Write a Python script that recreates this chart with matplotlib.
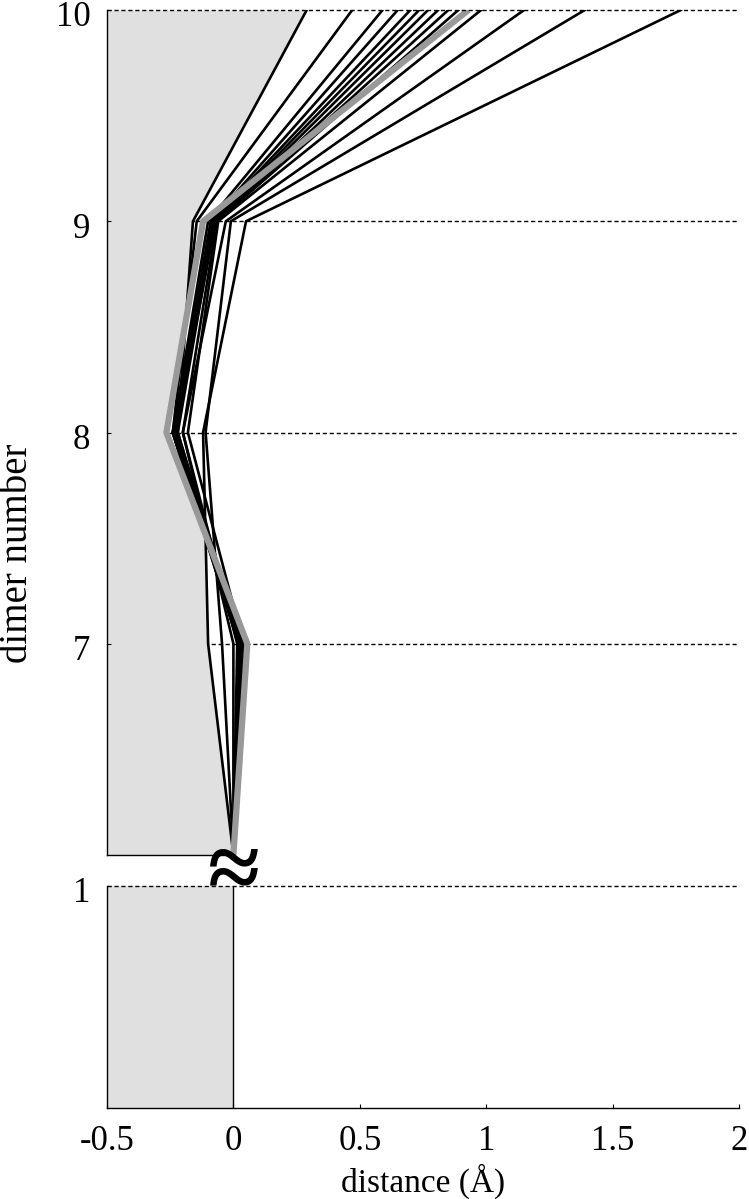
import numpy as np
import matplotlib
matplotlib.use('Agg')
import matplotlib.pyplot as plt
import matplotlib.transforms as mtransforms

plt.rcParams['font.family'] = ['Liberation Serif', 'DejaVu Serif']
plt.rcParams['axes.unicode_minus'] = False

# ---------------- data ----------------
levels = [6, 7, 8, 9, 10]                 # dimer number
# distance (A) of each trajectory at dimer 6..10
black_runs = [
    [0, 0.020, -0.220, -0.160, 0.29],
    [0, 0.030, -0.240, -0.145, 0.47],
    [0, 0.020, -0.240, -0.100, 0.59],
    [0, 0.035, -0.235, -0.090, 0.65],
    [0, 0.030, -0.230, -0.085, 0.70],
    [0, 0.025, -0.225, -0.080, 0.735],
    [0, 0.035, -0.220, -0.075, 0.77],
    [0, 0.020, -0.240, -0.070, 0.81],
    [0, 0.030, -0.230, -0.070, 0.85],
    [0, 0.015, -0.200, -0.065, 0.89],
    [0, 0.040, -0.180, -0.060, 0.98],
    [0, 0.000, -0.200, -0.030, 1.15],
    [0, -0.045, -0.110, -0.010, 1.39],
    [0, -0.100, -0.120, 0.050, 1.77],
]
gray_run = [0, 0.055, -0.265, -0.120, 0.93]
upper_ticks = [7, 8, 9, 10]
lower_ticks = [1]
x_ticks = [-0.5, 0, 0.5, 1, 1.5, 2]
x_ticklabels = ['-0.5', '0', '0.5', '1', '1.5', '2']

FILL = '#e0e0e0'
W, H = 749, 1199
fig = plt.figure(figsize=(W / 100, H / 100), dpi=100)
L, R = 107 / W, 739 / W
ax1 = fig.add_axes([L, 1 - 855 / H, R - L, (855 - 10) / H])
ax2 = fig.add_axes([L, 1 - 1108 / H, R - L, (1108 - 886) / H])

# ---- upper panel ----
yy = np.linspace(6, 10, 801)
env = np.min([np.interp(yy, levels, r) for r in black_runs + [gray_run]], axis=0)
ax1.fill_betweenx(yy, -0.5, env, color=FILL, lw=0, zorder=1)
for y in [7, 8, 9]:
    ax1.axhline(y, color='k', lw=1, ls=(0, (3, 2)), zorder=0)
ax1.axhline(10, color='k', lw=1, ls=(0, (3, 2)), zorder=4, clip_on=False)
for r in black_runs:
    ax1.plot(r, levels, color='k', lw=1.9, zorder=2)
ax1.plot(gray_run, levels, color='#999999', lw=4.5, zorder=3, solid_capstyle='butt')
ax1.plot([-0.5, 0], [6, 6], color='k', lw=1, zorder=4, clip_on=False)
ax1.set_xlim(-0.5, 2)
ax1.set_ylim(6, 10)
ax1.set_yticks(upper_ticks)
ax1.set_xticks([])
for s in ['top', 'right', 'bottom']:
    ax1.spines[s].set_visible(False)

# ---- lower panel ----
ax2.fill_between([-0.5, 0], 0, 1, color=FILL, lw=0, zorder=1)
ax2.plot([0, 0], [0, 1], color='k', lw=1, zorder=2)
ax2.axhline(1, color='k', lw=1, ls=(0, (3, 2)), zorder=3, clip_on=False)
ax2.set_xlim(-0.5, 2)
ax2.set_ylim(0, 1)
ax2.set_yticks(lower_ticks)
ax2.set_xticks(x_ticks)
ax2.set_xticklabels(x_ticklabels)
for s in ['top', 'right']:
    ax2.spines[s].set_visible(False)

shift = mtransforms.ScaledTranslation(0, -4 / 100, fig.dpi_scale_trans)
for ax in (ax1, ax2):
    ax.tick_params(direction='in', length=3, width=0.8, labelsize=25, pad=12)
    ax.spines['left'].set_linewidth(1)
    ax.spines['bottom'].set_linewidth(1)
    for lab in ax.get_yticklabels():
        lab.set_transform(lab.get_transform() + shift)

ax2.set_xlabel('distance (Å)', fontsize=24, labelpad=4)
fig.text(18 / W, 1 - 553 / H, 'dimer number', rotation=90, fontsize=28,
         ha='center', va='center')

# axis-break mark
fig.text(234 / W, 1 - 876 / H, '≈', fontsize=68, fontweight='bold',
         ha='center', va='center')

plt.savefig('out.png', dpi=100)
